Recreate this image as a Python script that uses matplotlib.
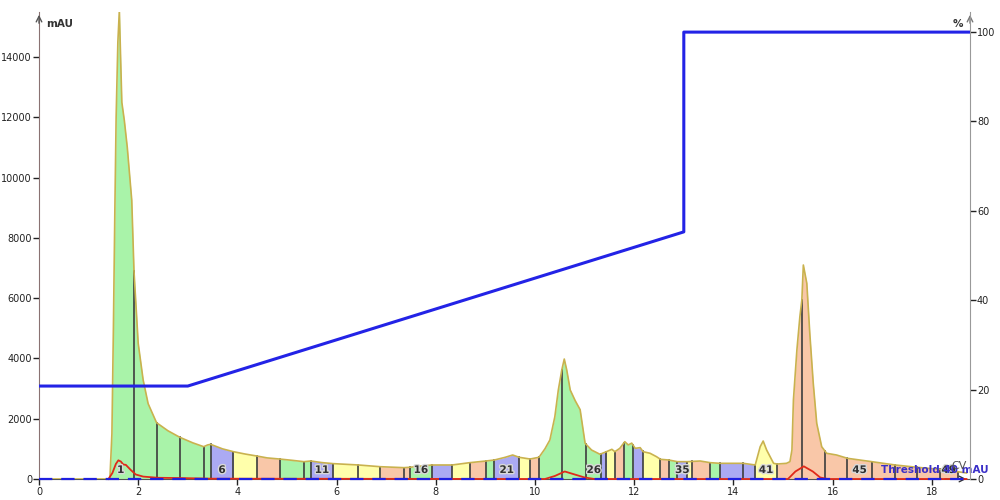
import numpy as np
import matplotlib
matplotlib.use('Agg')
import matplotlib.pyplot as plt
import matplotlib.patheffects as pe

# main UV trace (x in CV, y in mAU)
uv_cv = [0.0, 1.40, 1.43, 1.47, 1.50, 1.53, 1.555, 1.59, 1.62, 1.645, 1.67, 1.72, 1.78, 1.87,
         1.915, 2.00, 2.10, 2.20, 2.37, 2.60, 2.84, 3.10, 3.32, 3.40, 3.46, 3.70, 3.92, 4.15,
         4.39, 4.60, 4.85, 5.10, 5.34, 5.48, 5.70, 5.93, 6.44, 6.88, 7.36, 7.48, 7.92, 8.33,
         8.68, 9.01, 9.18, 9.40, 9.55, 9.68, 9.90, 10.08, 10.20, 10.30, 10.40, 10.47, 10.54,
         10.59, 10.64, 10.71, 10.81, 10.91, 11.01, 11.14, 11.31, 11.44, 11.55, 11.61, 11.71,
         11.81, 11.88, 11.95, 12.02, 12.12, 12.18, 12.32, 12.45, 12.53, 12.70, 12.87, 13.07,
         13.33, 13.53, 13.73, 14.20, 14.44, 14.54, 14.60, 14.67, 14.81, 14.88, 15.07, 15.14,
         15.18, 15.21, 15.28, 15.34, 15.38, 15.41, 15.48, 15.54, 15.61, 15.68, 15.78, 15.88,
         16.08, 16.30, 16.79, 17.26, 17.71, 18.16, 18.52, 18.70]
uv_mau = [0, 0, 30, 1500, 5000, 9000, 12000, 14500, 15550, 14000, 12500, 11900, 11000, 9250,
          6900, 4500, 3285, 2500, 1868, 1600, 1383, 1200, 1072, 1130, 1150, 1000, 906, 830,
          763, 700, 663, 620, 575, 597, 545, 510, 465, 408, 376, 390, 465, 465,
          541, 597, 630, 720, 796, 720, 663, 720, 1000, 1294, 2067, 2953, 3617,
          3980, 3617, 2953, 2600, 2300, 1185, 962, 820, 906, 985, 906, 1018,
          1238, 1130, 1190, 1018, 1040, 906, 853, 740, 653, 630, 575, 575,
          597, 542, 520, 520, 465, 1072, 1260, 962, 520, 497, 520, 575,
          962, 2621, 4280, 5385, 5940, 7100, 6493, 4834, 3175, 1848, 1072, 853,
          796, 686, 575, 465, 387, 320, 243, 200]

# second trace (red)
uv2_cv = [1.40, 1.48, 1.55, 1.60, 1.65, 1.70, 1.75, 1.85, 1.95, 2.10, 2.40, 2.90, 3.50,
          10.20, 10.40, 10.60, 10.80, 11.00, 11.20, 15.10, 15.25, 15.42, 15.60, 15.75, 15.90, 18.70]
uv2_mau = [0, 200, 500, 620, 580, 480, 470, 300, 150, 80, 40, 30, 10,
           0, 100, 250, 150, 50, 0, 0, 250, 420, 250, 50, 0, 0]

# gradient (%B)
grad_cv = [0, 3.0, 13.0, 13.0, 18.77]
grad_pct = [20.8, 20.8, 55.3, 100, 100]

# fraction edges, colours, labels
frac_edges = [1.38, 1.915, 2.37, 2.84, 3.32, 3.46, 3.92, 4.39, 4.85, 5.34, 5.48, 5.93, 6.44,
              6.88, 7.36, 7.48, 7.92, 8.33, 8.68, 9.01, 9.18, 9.68, 9.90, 10.08, 10.54, 11.03,
              11.34, 11.44, 11.61, 11.79, 11.98, 12.17, 12.53, 12.70, 12.87, 13.07, 13.16,
              13.53, 13.72, 14.20, 14.44, 14.88, 15.38, 15.85, 16.30, 16.79, 17.26, 17.71,
              18.16, 18.52]
frac_codes = "GGGGGBYOGGBYYOOGBYOGBYOGGGBYOGBYOGBYOGBBYOOOOOOOO"
frac_labels = [1, 6, 11, 16, 21, 26, 35, 41, 45, 49]

pal = {'G': '#a9f3a9', 'B': '#abaaf3', 'Y': '#ffffab', 'O': '#f9c7a8'}

fig = plt.figure(figsize=(10, 5), dpi=100)
ax = fig.add_axes([0.039, 0.042, 0.931, 0.934])
ax2 = ax.twinx()

x = np.array(uv_cv)
y = np.array(uv_mau)

for i in range(len(frac_edges) - 1):
    a, b = frac_edges[i], frac_edges[i + 1]
    m = (x > a) & (x < b)
    xs = np.concatenate([[a], x[m], [b]])
    ys = np.concatenate([[np.interp(a, x, y)], y[m], [np.interp(b, x, y)]])
    ax.fill_between(xs, 0, ys, color=pal[frac_codes[i]], lw=0, zorder=1)

for e in frac_edges[1:]:
    ax.plot([e, e], [0, np.interp(e, x, y)], color='#3c3c3c', lw=1.2, zorder=2)

ax.plot(x, y, color='#c9b24e', lw=1.2, zorder=3)

for n in frac_labels:
    c = (frac_edges[n - 1] + frac_edges[n]) / 2
    ax.text(c, 300, str(n), ha='center', va='center', fontsize=7.5, fontweight='bold',
            color='#303030', zorder=6,
            path_effects=[pe.withStroke(linewidth=2, foreground='#d8d8d8')])

ax.plot(uv2_cv, uv2_mau, color='#e02a1a', lw=1.3, zorder=4, clip_on=False)
ax.plot([0, 18.7], [0, 0], color='#1f1fe0', lw=1.6, dashes=(6, 4), zorder=5, clip_on=False)

ax.text(16.97, 300, 'Threshold 40 mAU', color='#3a2fc8', fontsize=7.5, fontweight='bold',
        va='center', ha='left', zorder=7)
ax.text(18.4, 420, 'CV', color='#555555', fontsize=8, va='center', ha='left', zorder=7)

ax2.plot(grad_cv, grad_pct, color='#2323e6', lw=2.2, zorder=5)

ax.set_xlim(0, 18.77)
ax.set_ylim(0, 15494)
ax2.set_ylim(0, 104.5)

ax.set_xticks(np.arange(0, 19, 2))
ax.set_yticks(np.arange(0, 15000, 2000))
ax2.set_yticks(np.arange(0, 101, 20))
for a_ in (ax, ax2):
    a_.tick_params(labelsize=7, colors='#222222', length=4, width=1, pad=1)
    a_.spines['top'].set_visible(False)
ax.tick_params(axis='x', pad=2)
ax.spines['right'].set_visible(False)
ax2.spines['left'].set_visible(False)
ax2.spines['bottom'].set_visible(False)
ax.spines['left'].set_color('#8a7272')
ax2.spines['right'].set_color('#999999')
ax.spines['bottom'].set_color('#555555')

# axis arrows
ax.annotate('', xy=(0, 1.0), xycoords='axes fraction', xytext=(0, 0.97),
            arrowprops=dict(arrowstyle='->', color='#555555', lw=1))
ax.annotate('', xy=(1.0, 1.0), xycoords='axes fraction', xytext=(1.0, 0.97),
            arrowprops=dict(arrowstyle='->', color='#777777', lw=1))
ax.annotate('', xy=(0.999, 0), xycoords='axes fraction', xytext=(0.97, 0),
            arrowprops=dict(arrowstyle='->', color='#333333', lw=1))
ax.text(0.008, 0.985, 'mAU', transform=ax.transAxes, fontsize=7.5, fontweight='bold',
        color='#333333', va='top', ha='left')
ax.text(0.993, 0.985, '%', transform=ax.transAxes, fontsize=7.5, fontweight='bold',
        color='#333333', va='top', ha='right')

fig.savefig('out.png', dpi=100)
